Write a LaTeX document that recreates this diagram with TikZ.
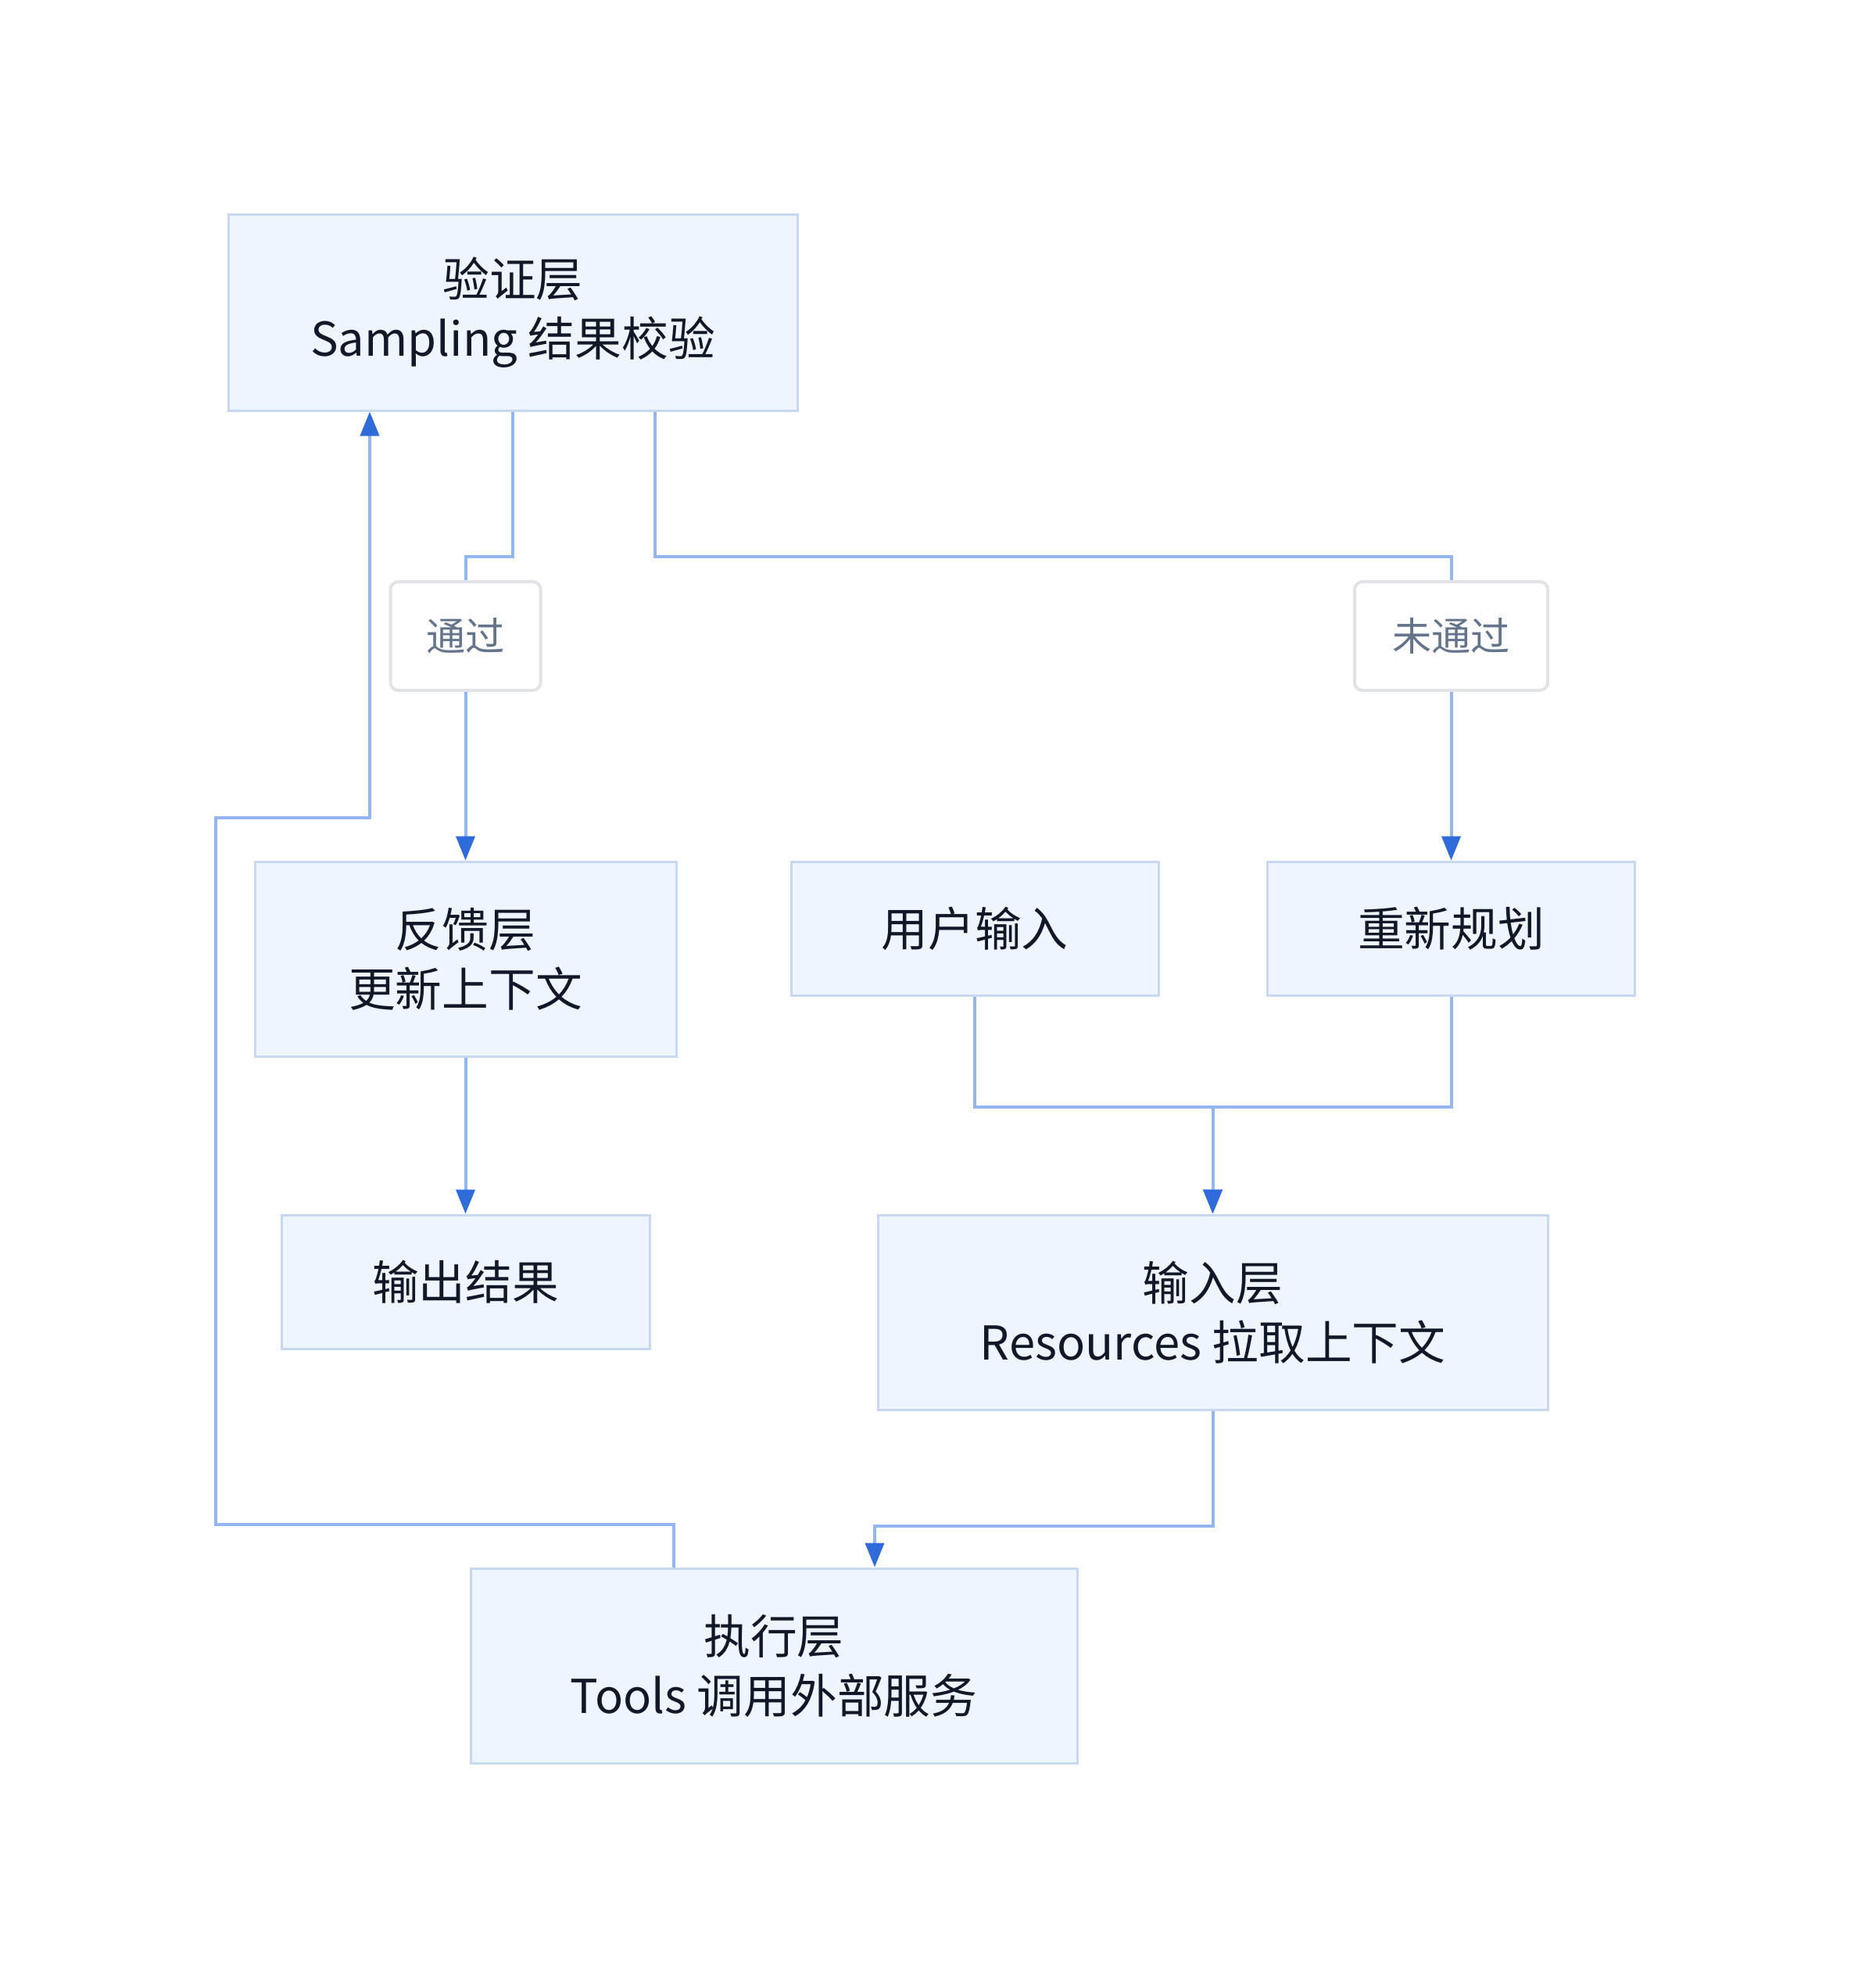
\documentclass[tikz,border=0pt]{standalone}
\usepackage{fontspec}
\setmainfont{Noto Sans CJK SC}
\usetikzlibrary{arrows.meta}
\definecolor{cajafondo}{HTML}{EFF5FE}
\definecolor{cajaborde}{HTML}{C8D8F2}
\definecolor{linea}{HTML}{93B5F0}
\definecolor{punta}{HTML}{2F6BD9}
\definecolor{texto}{HTML}{111827}
\definecolor{etiqtexto}{HTML}{64748B}
\definecolor{etiqborde}{HTML}{E2E3E6}
\tikzset{
  caja/.style={rectangle, draw=cajaborde, fill=cajafondo, line width=0.03cm,
    text=texto, align=center, inner sep=0pt,
    font=\fontsize{17pt}{21.6pt}\selectfont},
  etiq/.style={rectangle, rounded corners=0.1cm, draw=etiqborde, fill=white,
    line width=0.04cm, text=etiqtexto, inner sep=0pt,
    font=\fontsize{14.3pt}{18pt}\selectfont},
  conn/.style={draw=linea, line width=0.04cm},
  flecha/.style={conn, -{Triangle[length=0.31cm,width=0.24cm,color=punta]}}
}
\begin{document}
\begin{tikzpicture}
    \useasboundingbox (0,0) rectangle (24,-25.3);

    % Definir las cajas
    \node[caja, minimum width=7.28cm, minimum height=2.51cm] (valid) at (6.56,-3.995) {验证层\\Sampling 结果校验};
    \node[caja, minimum width=5.39cm, minimum height=2.49cm] (retro) at (5.955,-12.265) {反馈层\\更新上下文};
    \node[caja, minimum width=4.70cm, minimum height=1.71cm] (usuario) at (12.47,-11.875) {用户输入};
    \node[caja, minimum width=4.70cm, minimum height=1.71cm] (replan) at (18.565,-11.875) {重新规划};
    \node[caja, minimum width=4.71cm, minimum height=1.71cm] (salida) at (5.955,-16.395) {输出结果};
    \node[caja, minimum width=8.57cm, minimum height=2.49cm] (entrada) at (15.515,-16.785) {输入层\\Resources 拉取上下文};
    \node[caja, minimum width=7.76cm, minimum height=2.49cm] (ejec) at (9.90,-21.305) {执行层\\Tools 调用外部服务};

    % Etiquetas de las ramas
    \node[etiq, minimum width=1.92cm, minimum height=1.39cm] (paso) at (5.955,-8.135) {通过};
    \node[etiq, minimum width=2.47cm, minimum height=1.39cm] (nopaso) at (18.565,-8.135) {未通过};

    % Puntos de giro del retorno
    \coordinate (vuelta1) at (2.76,-19.50);
    \coordinate (vuelta2) at (4.73,-10.46);

    % Dibujar las conexiones
    \draw[conn] (valid.south) -- ++(0,-1.85) -| (paso.north);
    \draw[flecha] (paso.south) -- (retro.north);
    \draw[conn] ([xshift=1.82cm]valid.south) -- ++(0,-1.85) -| (nopaso.north);
    \draw[flecha] (nopaso.south) -- (replan.north);
    \draw[flecha] (retro.south) -- (salida.north);
    \draw[flecha] (usuario.south) -- ++(0,-1.41) -| (entrada.north);
    \draw[flecha] (replan.south) -- ++(0,-1.41) -| (entrada.north);
    \draw[flecha] (entrada.south) -- ++(0,-1.47) -| ([xshift=1.29cm]ejec.north);
    \draw[flecha] ([xshift=-1.28cm]ejec.north) |- (vuelta1) |- (vuelta2) -- (vuelta2 |- valid.south);

\end{tikzpicture}
\end{document}
